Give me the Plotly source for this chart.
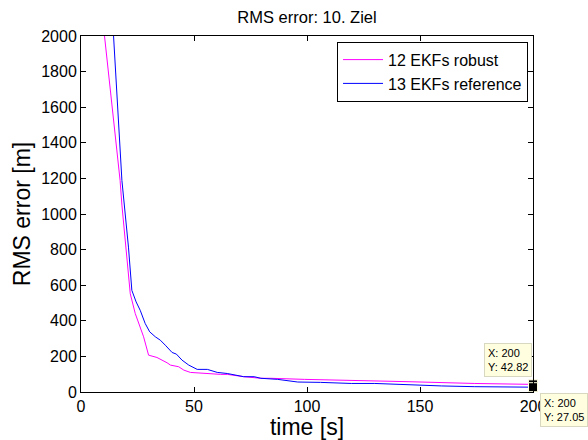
import plotly.graph_objects as go

# --- data ---
t_robust = [10, 17.3, 18.1, 19.9, 20.7, 21.8, 24, 27.7, 29.9, 33.6, 38.1, 39.6, 43.2, 45.5, 48.4,
            52, 57.3, 61.8, 64.7, 72, 79.6, 84, 98.8, 115, 119.6, 144.7, 174, 200]
v_robust = [2047, 1188, 1050, 814, 665, 552, 441, 310, 207, 194, 164, 151, 142, 123, 110,
            106, 104, 99, 99, 86, 77, 77, 71, 67, 67, 58, 48, 42.82]

t_ref = [14, 18.1, 21, 21.8, 22.5, 24.4, 26.2, 28.4, 30.4, 32.9, 35.1, 37.3, 39.6, 40.3,
         42.2, 44.7, 47.7, 51.4, 55.9, 60.3, 64.7, 72, 76.6, 79.6, 87, 95.9, 106,
         119.6, 130, 144.7, 159.6, 174, 200]
v_ref = [2088, 1188, 814, 683, 571, 506, 459, 385, 338, 310, 291, 263, 235, 222,
         213, 179, 151, 127, 127, 110, 104, 86, 86, 77, 71, 56, 54,
         48, 48, 39, 34, 30, 27.05]

tip_x = [200, 200]
tip_y = [42.82, 27.05]

x_ticks = [0, 50, 100, 150, 200]
y_ticks = [0, 200, 400, 600, 800, 1000, 1200, 1400, 1600, 1800, 2000]

FONT = "Liberation Sans, Arial, Helvetica, sans-serif"

fig = go.Figure()
fig.add_trace(go.Scatter(x=t_robust, y=v_robust, mode="lines", name="12 EKFs robust",
                         line=dict(color="#ff00ff", width=1)))
fig.add_trace(go.Scatter(x=t_ref, y=v_ref, mode="lines", name="13 EKFs reference",
                         line=dict(color="#0000ff", width=1)))
fig.add_trace(go.Scatter(x=tip_x, y=tip_y, mode="markers", showlegend=False,
                         cliponaxis=False,
                         marker=dict(symbol="square", size=9, color="black",
                                     line=dict(color="#ffffe0", width=1))))

axis_common = dict(showgrid=False, zeroline=False, showline=True, linecolor="black",
                   linewidth=1, mirror="ticks", ticks="inside", ticklen=5,
                   tickcolor="black", tickfont=dict(family=FONT, size=16, color="black"))

fig.update_xaxes(range=[0, 200], tickvals=x_ticks, ticktext=[str(v) for v in x_ticks],
                 title=dict(text="time [s]", font=dict(family=FONT, size=23, color="black"),
                            standoff=0),
                 **axis_common)
fig.update_yaxes(range=[0, 2000], tickvals=y_ticks, ticktext=[str(v) for v in y_ticks],
                 title=dict(text="RMS error [m]", font=dict(family=FONT, size=23, color="black"),
                            standoff=4),
                 **axis_common)

tip_style = dict(showarrow=False, align="left", bgcolor="#ffffe0", bordercolor="#d8d8c0",
                 borderwidth=1, borderpad=3, font=dict(family=FONT, size=11, color="black"),
                 xref="x", yref="y")
fig.add_annotation(x=tip_x[0], y=tip_y[0], text=f"X: {tip_x[0]}<br>Y: {tip_y[0]:.2f}",
                   xanchor="right", yanchor="bottom", xshift=-1, yshift=7, **tip_style)
fig.add_annotation(x=tip_x[1], y=tip_y[1], text=f"X: {tip_x[1]}<br>Y: {tip_y[1]:.2f}",
                   xanchor="left", yanchor="top", xshift=7, yshift=-6, **tip_style)

fig.update_layout(
    width=588, height=440,
    margin=dict(l=81, r=55, t=36, b=48, autoexpand=False),
    paper_bgcolor="white", plot_bgcolor="white",
    title=dict(text="RMS error: 10. Ziel", x=0.5, xref="paper", y=1 - 17.5 / 440,
               yref="container", xanchor="center", yanchor="middle",
               font=dict(family=FONT, size=16.5, color="black")),
    legend=dict(x=0.989, y=0.984, xanchor="right", yanchor="top", bgcolor="white",
                bordercolor="black", borderwidth=1, itemwidth=40,
                font=dict(family=FONT, size=16, color="black"),
                tracegroupgap=0),
    showlegend=True,
)

fig.write_html("out.html", config={"displayModeBar": False},
               post_script="document.body.style.margin='0';document.body.style.overflow='hidden';")
